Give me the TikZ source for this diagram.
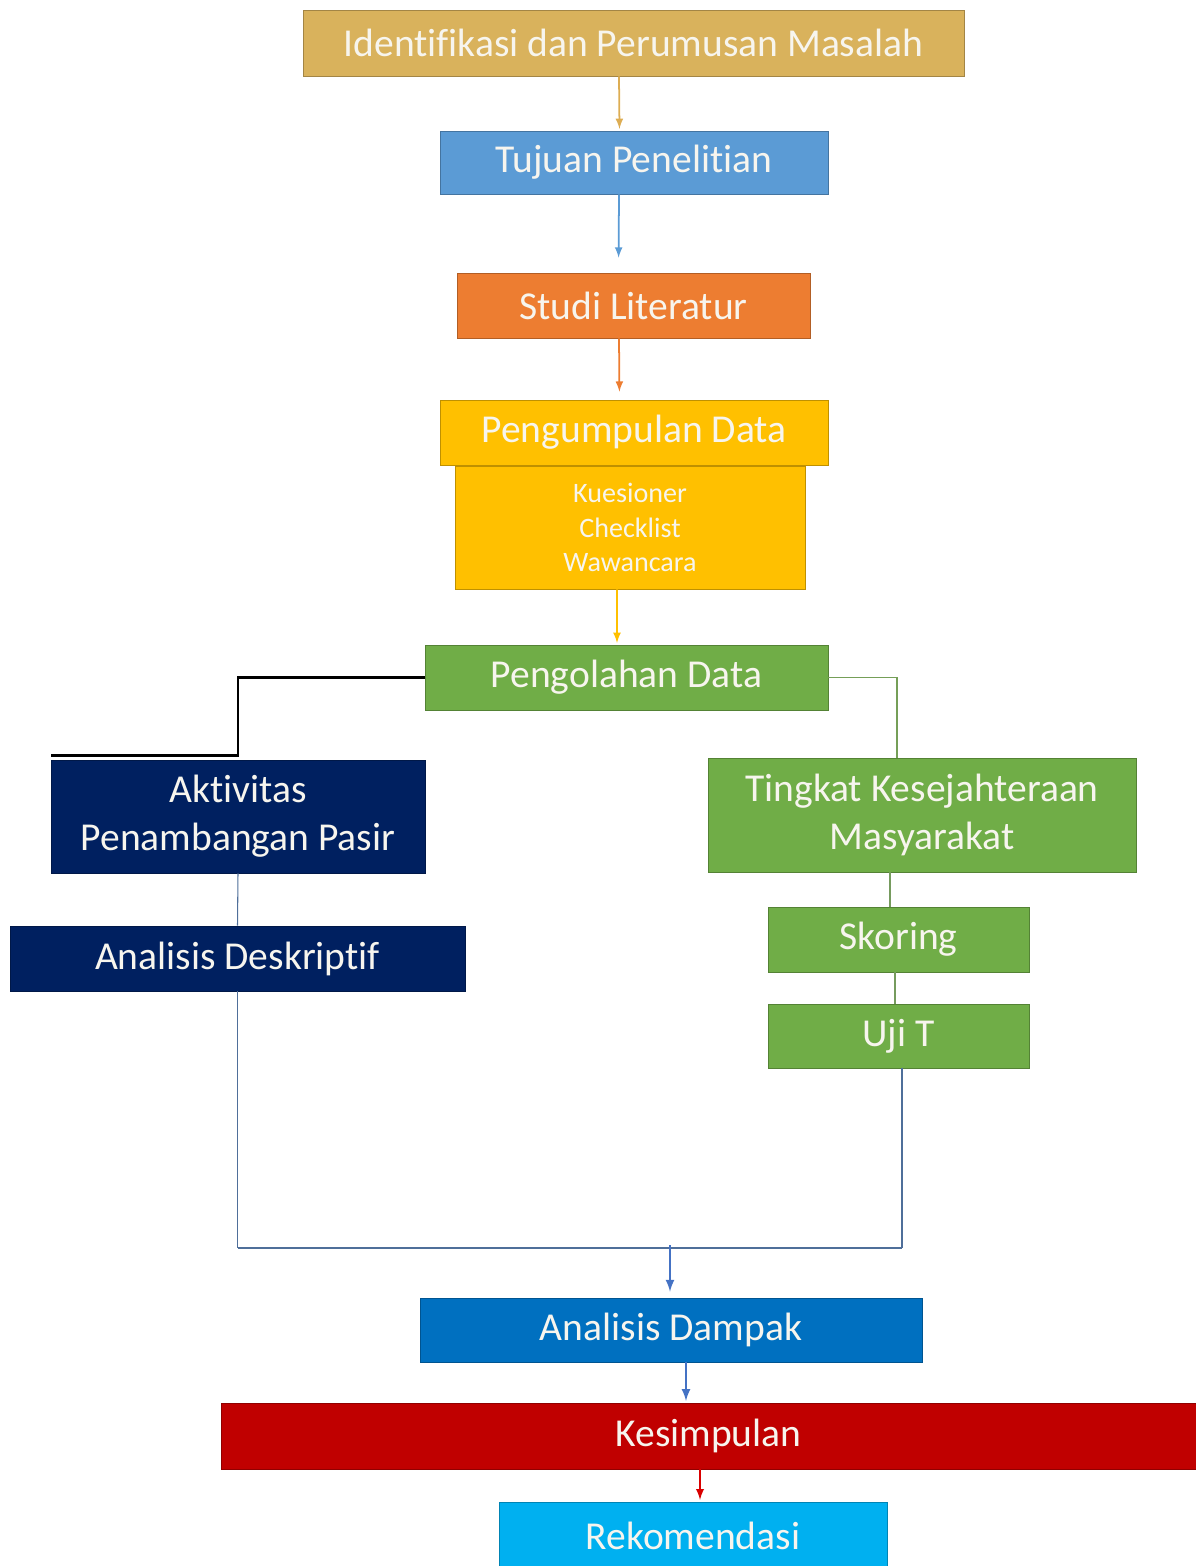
\documentclass[tikz,border=0pt]{standalone}
\usepackage{fontspec}
\setmainfont{Carlito}[RawFeature={-liga;-clig;-calt;-dlig}]
\usepackage{tikz}
\usetikzlibrary{arrows}

\definecolor{cIdent}{HTML}{D9B25C}
\definecolor{cTujuan}{HTML}{5B9BD5}
\definecolor{cStudi}{HTML}{ED7D31}
\definecolor{cKumpul}{HTML}{FFC000}
\definecolor{cOlah}{HTML}{70AD47}
\definecolor{cNavy}{HTML}{002060}
\definecolor{cDampak}{HTML}{0070C0}
\definecolor{cSimpul}{HTML}{C00000}
\definecolor{cRekom}{HTML}{00B0F0}
\definecolor{cLine}{HTML}{4F6F9A}
\definecolor{cArrow}{HTML}{4472C4}
\definecolor{cText}{HTML}{F7F5EE}

\begin{document}
\begin{tikzpicture}[x=0.02cm,y=-0.02cm,>=latex,
  box/.style={rectangle,draw=#1!75!black,fill=#1,text=cText,align=center,inner sep=0pt,
    font=\fontsize{22.5}{27.5}\selectfont},
  small box/.style={box=#1,font=\fontsize{16}{19.8}\selectfont},
  flow/.style={->,line width=1pt,shorten >=1pt}]

  \useasboundingbox (0,0) rectangle (1196,1566);

  \node[box=cIdent,minimum width=13.22cm,minimum height=1.32cm] (ident) at (633.5,43) {Identifikasi dan Perumusan Masalah};
  \node[box=cTujuan,minimum width=7.76cm,minimum height=1.26cm] (tujuan) at (634,162.5) {Tujuan Penelitian};
  \node[box=cStudi,minimum width=7.06cm,minimum height=1.30cm] (studi) at (633.5,305.5) {Studi Literatur};
  \node[box=cKumpul,minimum width=7.76cm,minimum height=1.30cm] (kumpul) at (634,432.5) {Pengumpulan Data};
  \node[small box=cKumpul,minimum width=7.00cm,minimum height=2.46cm] (metode) at (630,527.5) {Kuesioner\\Checklist\\Wawancara};
  \node[box=cOlah,minimum width=8.06cm,minimum height=1.30cm] (olah) at (626.5,677.5) {Pengolahan Data};
  \node[box=cNavy,minimum width=7.48cm,minimum height=2.26cm] (aktivitas) at (238,816.5) {Aktivitas\\Penambangan Pasir};
  \node[box=cNavy,minimum width=9.10cm,minimum height=1.30cm] (deskriptif) at (237.5,958.5) {Analisis Deskriptif};
  \node[box=cOlah,minimum width=8.56cm,minimum height=2.28cm] (tingkat) at (922,815) {Tingkat Kesejahteraan\\Masyarakat};
  \node[box=cOlah,minimum width=5.22cm,minimum height=1.30cm] (skoring) at (898.5,939.5) {Skoring};
  \node[box=cOlah,minimum width=5.22cm,minimum height=1.28cm] (ujit) at (898.5,1036) {Uji T};
  \node[box=cDampak,minimum width=10.04cm,minimum height=1.28cm] (dampak) at (671,1330) {Analisis Dampak};
  \node[box=cSimpul,minimum width=19.50cm,minimum height=1.32cm] (simpul) at (708.5,1436) {Kesimpulan};
  \node[box=cRekom,minimum width=7.76cm,minimum height=1.36cm] (rekom) at (693,1536) {Rekomendasi};

  \coordinate (gabung) at (670,1248);

  % alur utama
  \draw[flow,color=cIdent!90!orange] ([xshift=-0.29cm]ident.south) -- ([xshift=-0.29cm]tujuan.north);
  \draw[flow,color=cTujuan,shorten >=0.3cm] ([xshift=-0.3cm]tujuan.south) -- ([xshift=-0.3cm]studi.north);
  \draw[flow,color=cStudi,shorten >=0.16cm] ([xshift=-0.29cm]studi.south) -- ([xshift=-0.29cm]kumpul.north);
  \draw[flow,color=cKumpul] ([xshift=-0.26cm]metode.south) -- ([xshift=-0.19cm]olah.north);

  % cabang kiri
  \draw[black,line width=1.7pt] (olah.west) -| ([yshift=0.08cm]aktivitas.north) -- ([yshift=0.08cm]aktivitas.north west);
  \draw[cLine,line width=0.6pt] (aktivitas.south) -- (deskriptif.north);

  % cabang kanan
  \draw[cOlah!70!gray,line width=0.6pt] (olah.east) -| ([xshift=-0.5cm]tingkat.north);
  \draw[cOlah!60!gray,line width=0.6pt] ([xshift=-0.17cm]skoring.north |- tingkat.south) -- ([xshift=-0.17cm]skoring.north);
  \draw[cOlah!60!gray,line width=0.6pt] ([xshift=-0.07cm]skoring.south) -- ([xshift=-0.07cm]ujit.north);

  % gabungan
  \draw[cLine,line width=0.6pt] (deskriptif.south) -- (deskriptif.south |- gabung);
  \draw[cLine,line width=0.6pt] ([xshift=0.07cm]ujit.south) -- ([xshift=0.07cm]ujit.south |- gabung);
  \draw[cLine,line width=1.6pt] (deskriptif.south |- gabung) -- ([xshift=0.07cm]ujit.south |- gabung);
  \draw[flow,color=cArrow,line width=1.3pt,shorten >=0.12cm] ([yshift=0.06cm]gabung) -- (dampak.north -| gabung);
  \draw[flow,color=cArrow,line width=1.3pt] ([xshift=0.3cm]dampak.south) -- ([xshift=0.3cm]dampak.south |- simpul.north);
  \draw[flow,color=red!85!black,line width=1.1pt] (simpul.south -| 700,0) -- (rekom.north -| 700,0);

\end{tikzpicture}
\end{document}
